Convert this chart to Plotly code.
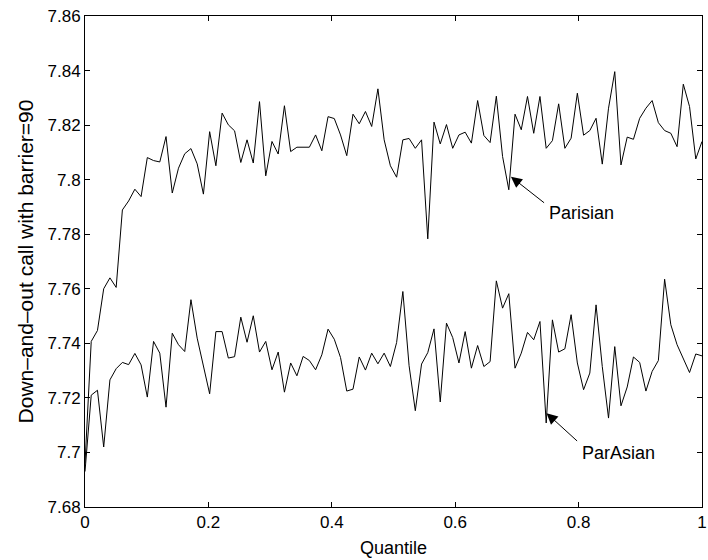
import numpy as np
import plotly.graph_objects as go

quantile = np.linspace(0, 1, 100).tolist()

parisian = [
    7.696, 7.7407, 7.7447, 7.7600, 7.7640, 7.7605, 7.7889, 7.7922, 7.7965, 7.7938,
    7.8081, 7.8070, 7.8065, 7.8158, 7.7951, 7.8042, 7.8095, 7.8114, 7.8058, 7.7947,
    7.8176, 7.8051, 7.8244, 7.8201, 7.8179, 7.8063, 7.8146, 7.8061, 7.8286, 7.8014,
    7.8140, 7.8094, 7.8271, 7.8103, 7.8119, 7.8119, 7.8119, 7.8164, 7.8106, 7.8231,
    7.8224, 7.8164, 7.8088, 7.8240, 7.8205, 7.8250, 7.8195, 7.8333, 7.8146, 7.8051,
    7.8009, 7.8146, 7.8151, 7.8115, 7.8146, 7.7783, 7.8211, 7.8131, 7.8202, 7.8115,
    7.8164, 7.8174, 7.8134, 7.8290, 7.8162, 7.8136, 7.8306, 7.8085, 7.7963, 7.8240,
    7.8183, 7.8305, 7.8170, 7.8305, 7.8115, 7.8143, 7.8278, 7.8115, 7.8152, 7.8317,
    7.8163, 7.8180, 7.8225, 7.8057, 7.8262, 7.8396, 7.8054, 7.8156, 7.8148, 7.8225,
    7.8262, 7.8290, 7.8209, 7.8180, 7.8170, 7.8121, 7.8350, 7.8268, 7.8076, 7.8140,
]

parasian = [
    7.693, 7.7210, 7.7228, 7.7020, 7.7266, 7.7307, 7.7330, 7.7322, 7.7363, 7.7321,
    7.7203, 7.7407, 7.7364, 7.7166, 7.7437, 7.7395, 7.7370, 7.7560, 7.7419, 7.7321,
    7.7215, 7.7443, 7.7443, 7.7346, 7.7351, 7.7496, 7.7404, 7.7501, 7.7368, 7.7407,
    7.7303, 7.7368, 7.7221, 7.7328, 7.7281, 7.7352, 7.7337, 7.7303, 7.7358, 7.7452,
    7.7415, 7.7348, 7.7225, 7.7232, 7.7350, 7.7302, 7.7364, 7.7325, 7.7364, 7.7315,
    7.7403, 7.7590, 7.7318, 7.7153, 7.7324, 7.7366, 7.7453, 7.7185, 7.7474, 7.7421,
    7.7328, 7.7443, 7.7309, 7.7392, 7.7315, 7.7333, 7.7629, 7.7529, 7.7582, 7.7309,
    7.7364, 7.7440, 7.7413, 7.7480, 7.7108, 7.7486, 7.7368, 7.7380, 7.7505, 7.7328,
    7.7230, 7.7291, 7.7541, 7.7315, 7.7126, 7.7388, 7.7171, 7.7240, 7.7350, 7.7330,
    7.7225, 7.7297, 7.7337, 7.7635, 7.7468, 7.7395, 7.7346, 7.7293, 7.7361, 7.7354,
]

x_ticks = [0, 0.2, 0.4, 0.6, 0.8, 1]
x_ticktext = ["0", "0.2", "0.4", "0.6", "0.8", "1"]
y_ticks = [7.68, 7.70, 7.72, 7.74, 7.76, 7.78, 7.80, 7.82, 7.84, 7.86]
y_ticktext = ["7.68", "7.7", "7.72", "7.74", "7.76", "7.78", "7.8", "7.82", "7.84", "7.86"]

FONT = "Liberation Sans, Arial, Helvetica, sans-serif"

fig = go.Figure()
fig.add_trace(go.Scatter(x=quantile, y=parisian, mode="lines",
                         line=dict(color="black", width=1), name="Parisian",
                         showlegend=False))
fig.add_trace(go.Scatter(x=quantile, y=parasian, mode="lines",
                         line=dict(color="black", width=1), name="ParAsian",
                         showlegend=False))

# Arrows (empty-text annotations so the tail sits exactly at ax/ay)
arrows = [
    dict(tip=(0.6903, 7.8011), tail=(0.7465, 7.7911)),
    dict(tip=(0.7481, 7.7144), tail=(0.8000, 7.7037)),
]
for a in arrows:
    fig.add_annotation(x=a["tip"][0], y=a["tip"][1], ax=a["tail"][0], ay=a["tail"][1],
                       xref="x", yref="y", axref="x", ayref="y", text="",
                       showarrow=True, arrowhead=2, arrowsize=2.2, arrowwidth=1,
                       arrowcolor="black")

labels = [
    dict(text="Parisian", x=0.7480, y=7.7878),
    dict(text="ParAsian", x=0.8015, y=7.6998),
]
for l in labels:
    fig.add_annotation(x=l["x"], y=l["y"], xref="x", yref="y", text=l["text"],
                       showarrow=False, xanchor="left", yanchor="middle",
                       font=dict(family=FONT, size=18, color="black"))

axis_common = dict(showline=True, linecolor="black", linewidth=1, mirror="ticks",
                   ticks="inside", ticklen=5, tickcolor="black", showgrid=False,
                   zeroline=False, ticklabeloverflow="allow", automargin=False,
                   tickfont=dict(family=FONT, size=17, color="black"))

fig.update_xaxes(range=[0, 1], tickvals=x_ticks, ticktext=x_ticktext,
                 title=dict(text="Quantile", font=dict(family=FONT, size=18, color="black"),
                            standoff=9),
                 **axis_common)
fig.update_yaxes(range=[7.68, 7.86], tickvals=y_ticks, ticktext=y_ticktext,
                 title=dict(text="Down\u2013and\u2013out call with barrier=90",
                            font=dict(family=FONT, size=21, color="black"), standoff=8),
                 **axis_common)

fig.update_layout(width=708, height=560, margin=dict(l=85, r=6, t=16, b=53),
                  paper_bgcolor="white", plot_bgcolor="white",
                  font=dict(family=FONT, size=17, color="black"))

fig.write_html("out.html")
